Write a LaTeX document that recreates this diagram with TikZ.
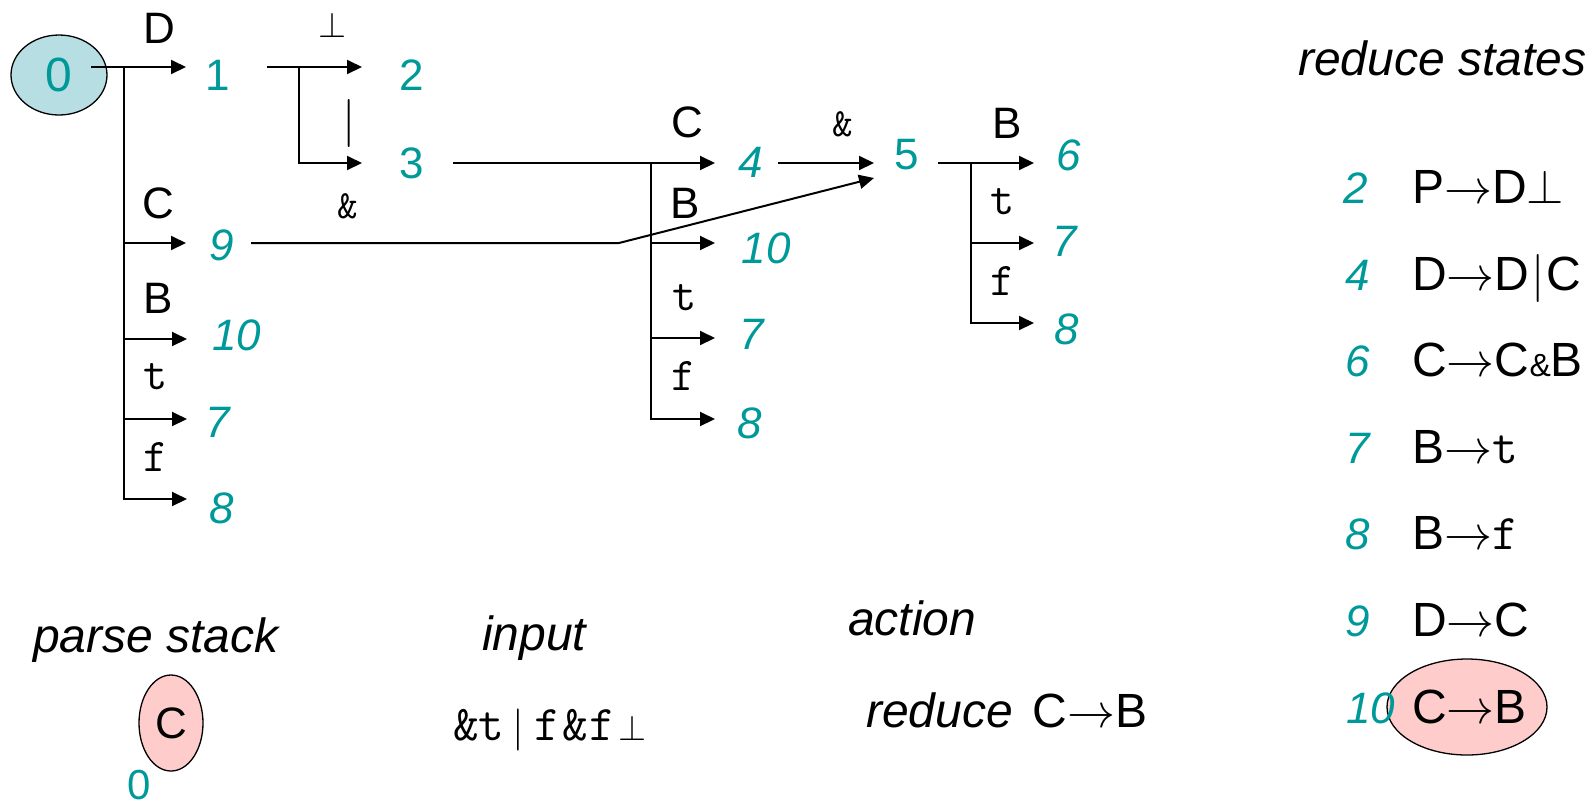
\RequirePackage{fix-cm}
\documentclass[tikz,border=0pt]{standalone}
\usepackage{fontspec}
\setmainfont{Liberation Sans}
\usetikzlibrary{arrows.meta,shapes.geometric}
\definecolor{tealc}{RGB}{0,153,153}
\definecolor{lblue}{RGB}{183,222,227}
\definecolor{lpink}{RGB}{255,204,204}
\newcommand\myfs[1]{\fontsize{#1}{#1}\selectfont}
\tikzset{
  arr/.style={line width=2pt,-{Triangle[length=15pt,width=14pt]}},
  lab/.style={inner sep=0pt,font=\myfs{44}},
  mlab/.style={inner sep=0pt,font=\myfs{47}\ttfamily},
  amp/.style={inner sep=0pt,font=\myfs{40}\ttfamily},
  num/.style={inner sep=0pt,text=tealc,font=\myfs{44}},
  inum/.style={inner sep=0pt,text=tealc,font=\myfs{44}\itshape},
  head/.style={inner sep=0pt,anchor=base west,font=\myfs{48}\itshape},
  rnum/.style={inner sep=0pt,anchor=base west,text=tealc,font=\myfs{44}\itshape},
  rtxt/.style={inner sep=0pt,anchor=base west,font=\myfs{48}},
  oval/.style={ellipse,draw,line width=1.3pt,inner sep=0pt}
}
\begin{document}
\begin{tikzpicture}[x=1pt,y=-1pt]
\useasboundingbox (0,0) rectangle (1594,807);
% start state
\node[oval,fill=lblue,minimum width=96pt,minimum height=80pt,text=tealc,font=\myfs{48}] (s0) at (59,75) {0};
% state numbers
\node[num] (n1) at (218,75) {1};
\node[num] (n2) at (412,75) {2};
\node[num] (n3) at (412,163) {3};
\node[inum] (n4) at (751,162) {4};
\node[num] (n5) at (907,155) {5};
\node[inum] (n6) at (1069,155) {6};
\node[inum] (n7r) at (1065,241) {7};
\node[inum] (n8r) at (1067,329) {8};
\node[inum] (n9) at (222,245) {9};
\node[inum] (n10a) at (237,335) {10};
\node[inum] (n7a) at (218,422) {7};
\node[inum] (n8a) at (222,508) {8};
\node[inum] (n10b) at (766,248) {10};
\node[inum] (n7b) at (752,334) {7};
\node[inum] (n8b) at (750,423) {8};
% connector points
\coordinate (o0) at (91,67); \coordinate (f0) at (124,67); \coordinate (i1) at (186,67);
\coordinate (i9) at (186,243); \coordinate (i10a) at (187,339);
\coordinate (i7a) at (187,419); \coordinate (i8a) at (187,499);
\coordinate (o1) at (267,67); \coordinate (f1) at (299,67);
\coordinate (i2) at (362,67); \coordinate (i3) at (362,163);
\coordinate (o3) at (453,163); \coordinate (f3) at (651,163); \coordinate (i4) at (715,163);
\coordinate (i10b) at (715,243); \coordinate (i7b) at (715,338); \coordinate (i8b) at (715,419);
\coordinate (o9) at (251,243); \coordinate (b9) at (619,243); \coordinate (i5b) at (874,178);
\coordinate (o4) at (778,163); \coordinate (i5) at (874,163);
\coordinate (o5) at (938,163); \coordinate (f5) at (971,163);
\coordinate (i6) at (1034,163); \coordinate (i7r) at (1034,243); \coordinate (i8r) at (1034,323);
% connectors
\draw[arr] (o0) -- (i1);
\draw[arr] (f0) |- (i8a);
\draw[arr] (f0 |- i9) -- (i9);
\draw[arr] (f0 |- i10a) -- (i10a);
\draw[arr] (f0 |- i7a) -- (i7a);
\draw[arr] (o1) -- (i2);
\draw[arr] (f1) |- (i3);
\draw[arr] (o3) -- (i4);
\draw[arr] (f3) |- (i8b);
\draw[arr] (f3 |- i10b) -- (i10b);
\draw[arr] (f3 |- i7b) -- (i7b);
\draw[arr] (o9) -- (b9) -- (i5b);
\draw[arr] (o4) -- (i5);
\draw[arr] (o5) -- (i6);
\draw[arr] (f5) |- (i8r);
\draw[arr] (f5 |- i7r) -- (i7r);
% edge labels
\node[lab] (lD) at (159,28) {D};
\node[inner sep=0pt,font=\myfs{36}] (lbot) at (332,25) {$\perp$};
\node[inner sep=0pt,font=\myfs{48}] (lbar) at (349,123) {$|$};
\node[amp] (lamp1) at (348,206) {\&};
\node[lab] (lC1) at (158,203) {C};
\node[lab] (lB1) at (158,298) {B};
\node[mlab] (lt1) at (156,377) {t};
\node[mlab] (lf1) at (156,457) {f};
\node[lab] (lC2) at (687,122) {C};
\node[amp] (lamp2) at (843,124) {\&};
\node[lab] (lB2) at (685,203) {B};
\node[mlab] (lt2) at (685,298) {t};
\node[mlab] (lf2) at (684,376) {f};
\node[lab] (lB3) at (1007,123) {B};
\node[mlab] (lt3) at (1003,202) {t};
\node[mlab] (lf3) at (1003,281) {f};
% reduce states list
\node[head] (hrs) at (1298,75) {reduce states};
\node[oval,fill=lpink,minimum width=160pt,minimum height=96pt] (e10) at (1467,707) {};
\node[rnum] (r2) at (1343,203) {2};
\node[rtxt] (p2) at (1412,203) {P$\rightarrow$D$\perp$};
\node[rnum] (r4) at (1345,290) {4};
\node[rtxt] (p4) at (1412,290) {D$\rightarrow$D\hspace{2pt}$|$\hspace{2pt}C};
\node[rnum] (r6) at (1345,376) {6};
\node[rtxt] (p6) at (1412,376) {C$\rightarrow$C{\myfs{32}\&}B};
\node[rnum] (r7) at (1345,463) {7};
\node[rtxt] (p7) at (1412,463) {B$\rightarrow${\myfs{50}\ttfamily t}};
\node[rnum] (r8) at (1345,549) {8};
\node[rtxt] (p8) at (1412,549) {B$\rightarrow${\myfs{50}\ttfamily f}};
\node[rnum] (r9) at (1345,636) {9};
\node[rtxt] (p9) at (1412,636) {D$\rightarrow$C};
\node[rnum] (r10) at (1346,723) {10};
\node[rtxt] (p10) at (1412,723) {C$\rightarrow$B};
% bottom area
\node[head] (hps) at (33,652) {parse stack};
\node[oval,fill=lpink,minimum width=64pt,minimum height=96pt,font=\myfs{44}] (pc) at (171,723) {C};
\node[num,font=\myfs{42}] (p0) at (139,785) {0};
\node[head] (hin) at (482,650) {input};
\node[inner sep=0pt,anchor=base west,font=\myfs{50}] (inp) at (453,740)
  {{\ttfamily\&t}\hspace{8pt}{\myfs{42}$|$}\hspace{10pt}{\ttfamily f\hspace{2pt}\&\hspace{2pt}f}\hspace{3pt}{\myfs{36}$\perp$}};
\node[head] (hac) at (848,635) {action};
\node[inner sep=0pt,anchor=base west,font=\myfs{48}] (act) at (866,727)
  {{\itshape reduce}\hspace{20pt}C$\rightarrow$B};
\end{tikzpicture}
\end{document}
